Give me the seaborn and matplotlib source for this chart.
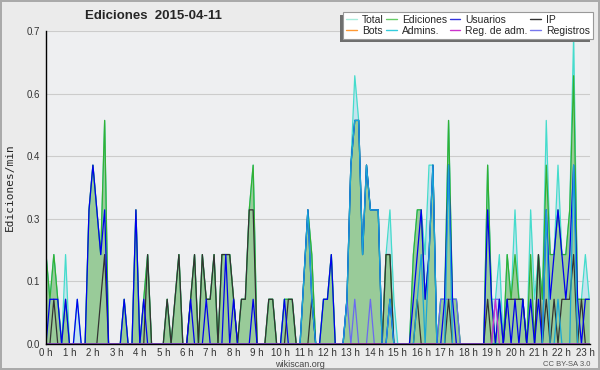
import numpy as np
import pandas as pd
import matplotlib
matplotlib.use('Agg')
import matplotlib.pyplot as plt
from matplotlib.lines import Line2D
from matplotlib.patches import Rectangle
from matplotlib.transforms import IdentityTransform
from matplotlib.ticker import FixedLocator, FormatStrFormatter
import seaborn as sns

# muestras cada 10 minutos, 0:00 .. 23:10
minutos = np.arange(0, 1400, 10)

total = [
    0.2, 0.1, 0.2, 0.1, 0, 0.2, 0, 0, 0.1, 0, 0, 0.3,
    0.4, 0.3, 0.2, 0.5, 0, 0, 0, 0, 0.1, 0, 0, 0.3,
    0, 0.1, 0.2, 0, 0, 0, 0, 0.1, 0, 0.1, 0.2, 0,
    0, 0.1, 0.2, 0, 0.2, 0.1, 0.1, 0.2, 0, 0.2, 0.2, 0.2,
    0.1, 0, 0.1, 0.1, 0.3, 0.4, 0, 0, 0, 0.1, 0.1, 0,
    0, 0.1, 0.1, 0.1, 0, 0, 0.15, 0.3, 0.2, 0, 0, 0.1,
    0.1, 0.2, 0, 0, 0, 0.1, 0.4, 0.6, 0.5, 0.2, 0.4, 0.3,
    0.3, 0.3, 0, 0.2, 0.3, 0.1, 0, 0, 0, 0, 0.2, 0.3,
    0.3, 0.2, 0.4, 0.4, 0, 0.1, 0.1, 0.5, 0.1, 0.1, 0, 0,
    0, 0, 0, 0, 0, 0.4, 0.1, 0.1, 0.2, 0, 0.2, 0.1,
    0.3, 0.1, 0.1, 0, 0.3, 0.1, 0.2, 0.1, 0.5, 0.2, 0.2, 0.4,
    0.2, 0.2, 0.3, 0.69, 0.1, 0.1, 0.2, 0.1,
]
ediciones = [
    0.2, 0.1, 0.2, 0.1, 0, 0.1, 0, 0, 0, 0, 0, 0.3,
    0.4, 0.3, 0.2, 0.5, 0, 0, 0, 0, 0.1, 0, 0, 0.3,
    0, 0.1, 0.2, 0, 0, 0, 0, 0.1, 0, 0.1, 0.2, 0,
    0, 0.1, 0.2, 0, 0.2, 0.1, 0.1, 0.2, 0, 0.2, 0.2, 0.2,
    0.1, 0, 0.1, 0.1, 0.3, 0.4, 0, 0, 0, 0.1, 0.1, 0,
    0, 0.1, 0.1, 0.1, 0, 0, 0.15, 0.3, 0.2, 0, 0, 0.1,
    0.1, 0.2, 0, 0, 0, 0.1, 0.4, 0.5, 0.5, 0.2, 0.4, 0.3,
    0.3, 0.3, 0, 0.2, 0.2, 0, 0, 0, 0, 0, 0.2, 0.3,
    0.3, 0.1, 0.2, 0.4, 0, 0.1, 0.1, 0.5, 0.1, 0.1, 0, 0,
    0, 0, 0, 0, 0, 0.4, 0.1, 0, 0.1, 0, 0.2, 0.1,
    0.2, 0.1, 0.1, 0, 0.2, 0, 0.2, 0.1, 0.4, 0.2, 0.2, 0.3,
    0.2, 0.2, 0.3, 0.6, 0.1, 0.1, 0.1, 0.1,
]
usuarios = [
    0, 0.1, 0.1, 0.1, 0, 0.1, 0, 0, 0.1, 0, 0, 0.3,
    0.4, 0.3, 0.2, 0.3, 0, 0, 0, 0, 0.1, 0, 0, 0.3,
    0, 0.1, 0, 0, 0, 0, 0, 0, 0, 0, 0, 0,
    0, 0.1, 0, 0, 0, 0.1, 0, 0, 0, 0, 0.2, 0,
    0.1, 0, 0, 0, 0, 0.1, 0, 0, 0, 0, 0, 0,
    0, 0.1, 0, 0, 0, 0, 0.15, 0.3, 0.1, 0, 0, 0.1,
    0.1, 0.2, 0, 0, 0, 0.1, 0.4, 0.5, 0.5, 0.2, 0.4, 0.3,
    0.3, 0.3, 0, 0, 0.1, 0, 0, 0, 0, 0, 0.1, 0.2,
    0.3, 0.1, 0.2, 0.4, 0, 0, 0.1, 0.4, 0.1, 0, 0, 0,
    0, 0, 0, 0, 0, 0.3, 0.1, 0, 0.1, 0, 0.1, 0,
    0.1, 0, 0.1, 0, 0.1, 0, 0.1, 0, 0.3, 0.1, 0.2, 0.3,
    0.2, 0.1, 0.2, 0.4, 0.1, 0, 0.1, 0.1,
]
ip = [
    0, 0, 0.1, 0, 0, 0, 0, 0, 0, 0, 0, 0,
    0, 0, 0.1, 0.2, 0, 0, 0, 0, 0, 0, 0, 0,
    0, 0, 0.2, 0, 0, 0, 0, 0.1, 0, 0.1, 0.2, 0,
    0, 0.1, 0.2, 0, 0.2, 0.1, 0.1, 0.2, 0, 0.2, 0.2, 0.2,
    0.1, 0, 0.1, 0.1, 0.3, 0.3, 0, 0, 0, 0.1, 0.1, 0,
    0, 0, 0.1, 0.1, 0, 0, 0, 0, 0.1, 0, 0, 0,
    0, 0, 0, 0, 0, 0, 0, 0, 0, 0, 0, 0,
    0, 0, 0, 0.2, 0.2, 0, 0, 0, 0, 0, 0, 0.1,
    0, 0, 0, 0, 0, 0, 0, 0.1, 0, 0, 0, 0,
    0, 0, 0, 0, 0, 0.1, 0, 0, 0, 0, 0.1, 0.1,
    0.1, 0.1, 0.1, 0, 0, 0, 0.2, 0, 0.1, 0, 0.1, 0,
    0.1, 0.1, 0.1, 0.2, 0, 0.1, 0, 0,
]
bots = [0] * 140
admins = [0] * 60 + [
    0, 0, 0, 0, 0, 0, 0.15, 0.3, 0.1, 0, 0, 0,
    0, 0, 0, 0, 0, 0.1, 0.4, 0.5, 0.5, 0.2, 0.4, 0.3,
    0.3, 0.3, 0, 0, 0.1, 0, 0, 0, 0, 0, 0, 0.1,
    0.2, 0, 0.2, 0.4, 0, 0, 0, 0.4, 0, 0, 0, 0,
    0, 0, 0, 0, 0, 0, 0, 0, 0, 0, 0, 0,
    0, 0, 0, 0, 0, 0, 0, 0, 0.3, 0, 0, 0.1,
    0, 0, 0, 0.4, 0, 0, 0, 0,
]
reg_adm = [0] * 115 + [0.1] + [0] * 24
registros = [0] * 72 + [
    0, 0, 0, 0, 0, 0.1, 0, 0.1, 0, 0, 0, 0.1,
    0, 0, 0, 0, 0.1, 0, 0, 0, 0, 0, 0, 0,
    0, 0, 0, 0, 0, 0.1, 0.1, 0.1, 0.1, 0.1, 0, 0,
    0, 0, 0, 0, 0, 0, 0, 0.1, 0.1, 0, 0, 0,
] + [0] * 20

df = pd.DataFrame({
    'hora': minutos / 60,
    'Total': total, 'Ediciones': ediciones, 'Usuarios': usuarios, 'IP': ip,
    'Bots': bots, 'Admins.': admins, 'Reg. de adm.': reg_adm, 'Registros': registros,
})

sns.set_style('white')
plt.rcParams['font.family'] = ['Liberation Sans', 'DejaVu Sans']

fig = plt.figure(figsize=(6, 3.7), dpi=100, facecolor='#ebebeb')
fig.patch.set_edgecolor('#aaaaaa')
fig.patch.set_linewidth(1.5)
ax = fig.add_axes([0.0767, 0.0703, 0.9067, 0.8459])
ax.set_facecolor('#eeeff1')

# areas
ax.fill_between(df['hora'], df['Total'], color='#c4e3ee', lw=0, zorder=1)
ax.fill_between(df['hora'], df['Ediciones'], color='#99cb99', lw=0, zorder=1.1)

# lineas: (serie, color en el grafico, color en la leyenda)
series = [
    ('Bots', '#ff9933', '#ff9933'),
    ('Total', '#44dccc', '#a8ecdc'),
    ('Ediciones', '#33b033', '#66cc66'),
    ('Registros', '#6a6af0', '#7777ee'),
    ('IP', '#333333', '#333333'),
    ('Usuarios', '#0000ee', '#3333dd'),
    ('Admins.', '#1aa6d6', '#33ccdd'),
    ('Reg. de adm.', '#cc33cc', '#cc33cc'),
]
for k, (name, col, _) in enumerate(series):
    sns.lineplot(data=df, x='hora', y=name, ax=ax, color=col, linewidth=0.9,
                 legend=False, zorder=2 + k * 0.01)

ax.set_xlim(0, 23.2)
ax.set_ylim(0, 0.7)
ax.set_xlabel('')
ax.set_ylabel('Ediciones/min', family='DejaVu Sans Mono', fontsize=8)
ax.yaxis.set_label_coords(-0.057, 0.5)

horas = list(range(24))
ax.xaxis.set_major_locator(FixedLocator(horas))
ax.set_xticklabels([f'{h} h' for h in horas])
ax.xaxis.set_minor_locator(FixedLocator(np.arange(0, 23.2, 1 / 6)))
ax.yaxis.set_major_locator(FixedLocator(np.linspace(0, 0.7, 6)))
ax.yaxis.set_minor_locator(FixedLocator(np.linspace(0, 0.7, 21)))
ax.yaxis.set_major_formatter(FormatStrFormatter('%.1f'))
ax.tick_params(which='both', direction='out', color='black', width=0.8,
               labelsize=7, labelcolor='#333333', pad=1)
ax.tick_params(axis='x', which='both', pad=0)
ax.tick_params(which='major', length=3)
ax.tick_params(which='minor', length=2)
ax.grid(axis='y', color='#cccccc', linewidth=0.8)
ax.grid(axis='x', visible=False)
for s in ['top', 'right']:
    ax.spines[s].set_visible(False)
for s in ['left', 'bottom']:
    ax.spines[s].set_color('black')
    ax.spines[s].set_linewidth(1)
    ax.spines[s].set_zorder(3)

fig.text(0.255, 0.957, 'Ediciones  2015-04-11', ha='center', va='center',
         fontsize=9.5, fontweight='bold')
fig.text(0.5, 0.016, 'wikiscan.org', ha='center', va='center', fontsize=6.5,
         color='#444444')
fig.text(0.984, 0.016, 'CC BY-SA 3.0', ha='right', va='center', fontsize=5.5,
         color='#555555')

# leyenda en orden de filas: Total, Ediciones, Usuarios, IP / Bots, Admins., ...
leg_col = {name: lc for name, _, lc in series}
orden = ['Total', 'Bots', 'Ediciones', 'Admins.', 'Usuarios', 'Reg. de adm.',
         'IP', 'Registros']
handles = [Line2D([], [], color=leg_col[n], lw=1) for n in orden]
leg = fig.legend(handles, orden, loc='upper right', bbox_to_anchor=(593 / 600, 358 / 370),
                 borderaxespad=0, ncol=4, fontsize=7.5, handlelength=1.0,
                 handletextpad=0.5, columnspacing=0.25, labelspacing=0.05,
                 borderpad=0.3, fancybox=False, framealpha=1, edgecolor='#999999')
leg.get_frame().set_linewidth(0.8)

fig.canvas.draw()
bb = leg.get_window_extent()
fig.add_artist(Rectangle((bb.x0 - 3, bb.y0 - 3), bb.width, bb.height,
                         transform=IdentityTransform(), facecolor='#6e6e6e',
                         edgecolor='none', zorder=4.9))

fig.savefig('out.png', dpi=100, facecolor=fig.get_facecolor(),
            edgecolor=fig.patch.get_edgecolor())
